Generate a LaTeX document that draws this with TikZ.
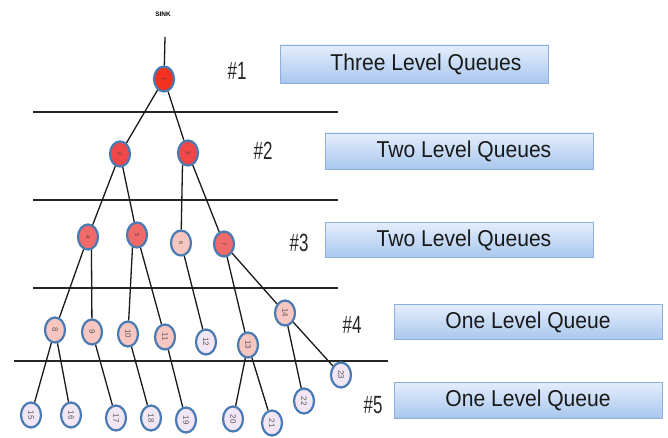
\documentclass[tikz,border=0pt]{standalone}
\usepackage{fontspec}
\usepackage{graphicx}
\usetikzlibrary{shapes.geometric}
\setmainfont{Liberation Sans}
\newfontfamily\narrowfont[FakeStretch=0.68]{Liberation Sans}
\newfontfamily\boxfont[FakeStretch=0.92]{Liberation Sans}
\definecolor{nodeblue}{HTML}{4A7AB2}
\definecolor{redA}{HTML}{F2321E}
\definecolor{redB}{HTML}{F04848}
\definecolor{redC}{HTML}{F06A6A}
\definecolor{pinkA}{HTML}{F8C6C0}
\definecolor{lavA}{HTML}{F1E6F4}
\definecolor{boxtop}{HTML}{E4EEFC}
\definecolor{boxbot}{HTML}{A9C7EE}
\definecolor{boxline}{HTML}{8EAEDC}
\tikzset{
  tn/.style={ellipse, draw=nodeblue, line width=2.2bp, minimum width=20bp, minimum height=25bp, inner sep=0pt, font=\fontsize{5.5}{5.5}\selectfont, text=black!75},
  red1/.style={tn, fill=redA},
  red2/.style={tn, fill=redB},
  red3/.style={tn, fill=redC},
  pink/.style={tn, fill=pinkA, font=\fontsize{8}{8}\selectfont, text=black!65},
  lav/.style={tn, fill=lavA, font=\fontsize{8}{8}\selectfont, text=black!65},
  edge/.style={draw=black!90, line width=1.3bp},
  layer/.style={draw=black!85, line width=1.6bp},
  qbox/.style={rectangle, draw=boxline, line width=0.8bp, top color=boxtop, bottom color=boxbot, minimum width=268bp, minimum height=36bp, inner sep=0pt, font=\boxfont\fontsize{23}{23}\selectfont, text=black!90},
  lvl/.style={font=\narrowfont\fontsize{25}{25}\selectfont, text=black!85, inner sep=0pt}
}
\newcommand{\rl}[1]{\rotatebox{-90}{#1}}
\begin{document}
\begin{tikzpicture}[x=1bp, y=-1bp]
\useasboundingbox (0,0) rectangle (668,438);

% layer lines
\coordinate (l1a) at (33,112); \coordinate (l1b) at (338,112);
\coordinate (l2a) at (33,200); \coordinate (l2b) at (338,200);
\coordinate (l3a) at (33,288); \coordinate (l3b) at (338,288);
\coordinate (l4a) at (14,361); \coordinate (l4b) at (388,361);
\draw[layer] (l1a) -- (l1b);
\draw[layer] (l2a) -- (l2b);
\draw[layer] (l3a) -- (l3b);
\draw[layer] (l4a) -- (l4b);

% sink
\node[font=\bfseries\fontsize{6.5}{6.5}\selectfont, inner sep=0pt] (sink) at (163,14) {SINK};
\coordinate (sinkend) at (165,37);

% tree nodes
\node[red1] (n1) at (164,79) {\rl{1}};
\node[red2] (n2) at (120,154) {\rl{2}};
\node[red2] (n3) at (188,153) {\rl{3}};
\node[red3] (n4) at (88,237) {\rl{4}};
\node[red3] (n5) at (137,235) {\rl{5}};
\node[tn, fill=pinkA] (n6) at (181,243) {\rl{6}};
\node[red3] (n7) at (224,244) {\rl{7}};
\node[pink] (n8) at (55,330) {\rl{8}};
\node[pink] (n9) at (92,332) {\rl{9}};
\node[pink] (n10) at (128,334) {\rl{10}};
\node[pink] (n11) at (165,337) {\rl{11}};
\node[lav] (n12) at (206,342) {\rl{12}};
\node[pink] (n13) at (248,345) {\rl{13}};
\node[pink] (n14) at (285,313) {\rl{14}};
\node[lav] (n15) at (31,415) {\rl{15}};
\node[lav] (n16) at (71,415) {\rl{16}};
\node[lav] (n17) at (116,418) {\rl{17}};
\node[lav] (n18) at (151,418) {\rl{18}};
\node[lav] (n19) at (186,420) {\rl{19}};
\node[lav] (n20) at (233,419) {\rl{20}};
\node[lav] (n21) at (272,423) {\rl{21}};
\node[lav] (n22) at (304,401) {\rl{22}};
\node[lav] (n23) at (341,375) {\rl{23}};

% edges
\draw[edge] (sinkend) -- (n1);
\draw[edge] (n1) -- (n2);
\draw[edge] (n1) -- (n3);
\draw[edge] (n2) -- (n4);
\draw[edge] (n2) -- (n5);
\draw[edge] (n3.-115) -- (n6);
\draw[edge] (n3) -- (n7);
\draw[edge] (n4) -- (n8);
\draw[edge] (n4.-75) -- (n9);
\draw[edge] (n5.-110) -- (n10);
\draw[edge] (n5) -- (n11);
\draw[edge] (n6) -- (n12);
\draw[edge] (n7) -- (n13);
\draw[edge] (n7) -- (n14);
\draw[edge] (n8) -- (n15);
\draw[edge] (n8) -- (n16);
\draw[edge] (n9) -- (n17);
\draw[edge] (n10) -- (n18);
\draw[edge] (n11) -- (n19);
\draw[edge] (n13) -- (n20);
\draw[edge] (n13) -- (n21);
\draw[edge] (n14) -- (n22);
\draw[edge] (n14) -- (n23);

% level labels
\node[lvl] (h1) at (237,71) {\#1};
\node[lvl] (h2) at (263,151) {\#2};
\node[lvl] (h3) at (299,243) {\#3};
\node[lvl] (h4) at (352,325) {\#4};
\node[lvl] (h5) at (373,405) {\#5};

% queue boxes
\node[qbox, minimum height=38bp] (q1) at (414,64) {\raisebox{-1.5bp}{\hspace*{24bp}Three Level Queues}};
\node[qbox] (q2) at (459,151) {\raisebox{-1bp}{\hspace*{10bp}Two Level Queues}};
\node[qbox, minimum height=35bp] (q3) at (459,240) {\raisebox{-1bp}{\hspace*{10bp}Two Level Queues}};
\node[qbox, minimum height=35bp] (q4) at (528,322) {\raisebox{-1bp}{One Level Queue}};
\node[qbox] (q5) at (528,400) {\raisebox{-1bp}{One Level Queue}};
\end{tikzpicture}
\end{document}
